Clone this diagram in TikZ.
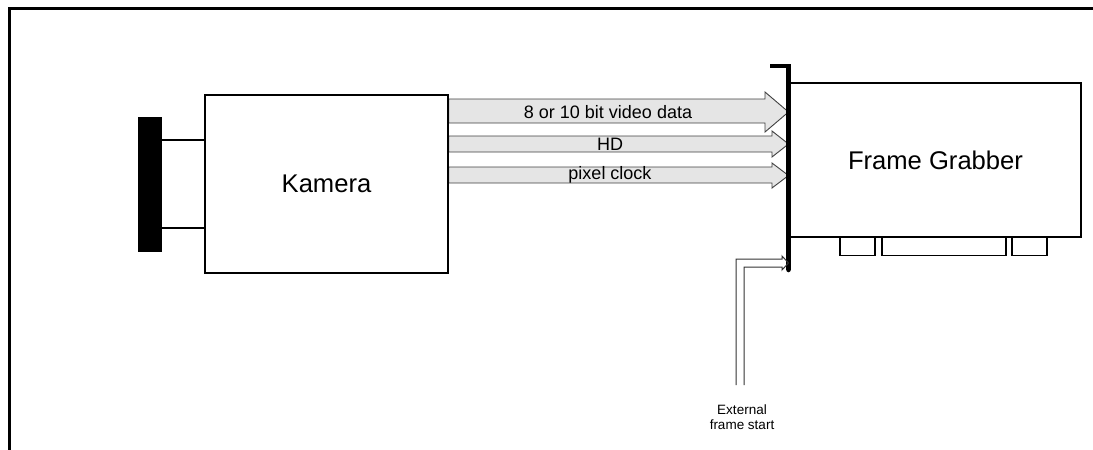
\documentclass[tikz,border=0pt]{standalone}
\usepackage{fontspec}
\setmainfont{Liberation Sans}
\usetikzlibrary{backgrounds}

\begin{document}
\begin{tikzpicture}[x=1pt, y=-1pt,
    box/.style={draw, line width=1.5pt, inner sep=0pt},
    plug/.style={draw, line width=1.2pt, minimum width=#1, minimum height=18pt, inner sep=0pt, anchor=north},
    busarrow/.style={draw=black!75, fill=black!10, line width=0.9pt},
    buslabel/.style={font=\fontsize{18}{20}\selectfont, inner sep=0pt}]
    \useasboundingbox (0,0) rectangle (1093,450);
    % outer frame (cut off at right and bottom)
    \draw[line width=3pt] (9,450) -- (9,8) -- (1093,8);
    % camera and lens
    \node[box, minimum width=243pt, minimum height=178pt, font=\fontsize{25.6}{30}\selectfont]
        (kamera) at (326.5,184) {Kamera};
    \node[fill=black, minimum width=24pt, minimum height=135pt, inner sep=0pt]
        (lens) at (150,184.5) {};
    \draw[line width=1.3pt] (lens.east |- 0,140) -- (kamera.west |- 0,140);
    \draw[line width=1.3pt] (lens.east |- 0,228) -- (kamera.west |- 0,228);
    % frame grabber card with slot bracket
    \node[box, minimum width=291pt, minimum height=154pt, font=\fontsize{25.6}{30}\selectfont]
        (grabber) at (935.5,160) {Frame Grabber};
    \node[plug=35pt] (plug1) at (857.5,237) {};
    \node[plug=124pt] (plug2) at (944,237) {};
    \node[plug=35pt] (plug3) at (1029.5,237) {};
    \coordinate (bar) at (788.5,66);
    \draw[line width=4.5pt] (770,66) -- (bar) -- (788.5,270);
    \fill (788.5,270) circle (2.25pt);
    % signal arrows
    \begin{scope}[on background layer]
        \draw[busarrow] (kamera.east |- 0,99) -- (765,99) -- (765,92) -- (bar |- 0,112)
            -- (765,132) -- (765,123) -- (kamera.east |- 0,123) -- cycle;
        \draw[busarrow] (kamera.east |- 0,136) -- (772,136) -- (772,131) -- (bar |- 0,144)
            -- (772,157) -- (772,152) -- (kamera.east |- 0,152) -- cycle;
        \draw[busarrow] (kamera.east |- 0,167) -- (772,167) -- (772,163) -- (bar |- 0,175.5)
            -- (772,188) -- (772,183) -- (kamera.east |- 0,183) -- cycle;
    \end{scope}
    \node[buslabel] (video) at (608,112) {8 or 10 bit video data};
    \node[buslabel] (hd) at (610,144) {HD};
    \node[buslabel] (pclk) at (610,175) {pixel clock};
    % external trigger
    \node[font=\fontsize{13.5}{15}\selectfont, align=center, inner sep=0pt]
        (extlabel) at (742,417) {External\\frame start};
    \draw[draw=black!80, line width=1pt] (736,385) -- (736,259) -- (782,259) -- (782,256)
        -- (bar |- 0,263) -- (782,270) -- (782,267) -- (744,267) -- (744,385);
\end{tikzpicture}
\end{document}
